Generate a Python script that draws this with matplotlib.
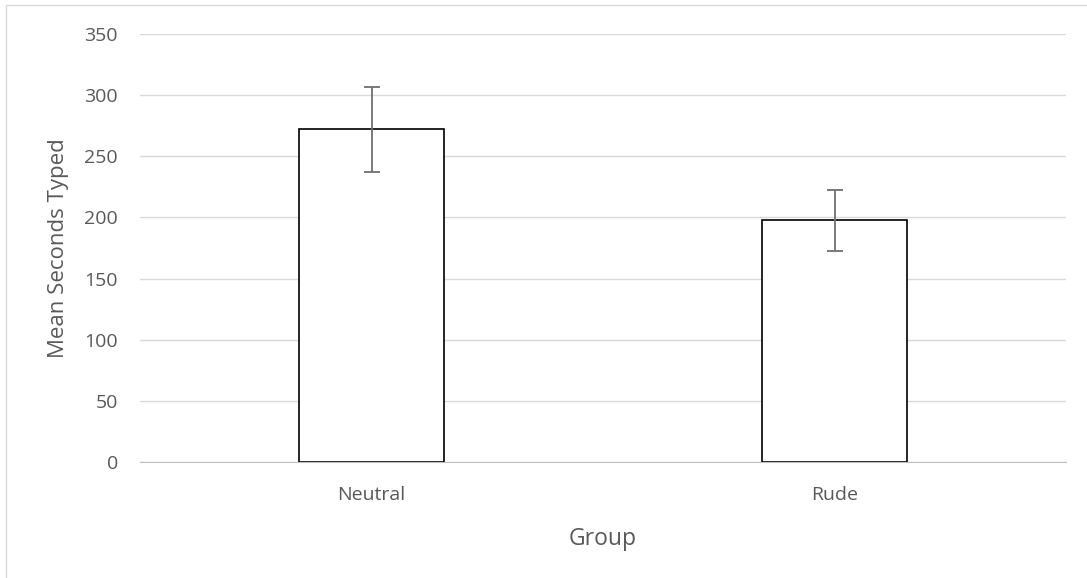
import matplotlib.pyplot as plt
from matplotlib.patches import Rectangle

groups = ["Neutral", "Rude"]
means = [272, 197.5]
errors = [34.5, 24.7]
yticks = [0, 50, 100, 150, 200, 250, 300, 350]

plt.rcParams['font.family'] = ['Open Sans', 'DejaVu Sans']
text_color = "#595959"

fig = plt.figure(figsize=(10.87, 5.78), dpi=100)
ax = fig.add_axes([140/1087, 1 - 462/578, 926/1087, 428/578])

x = range(len(groups))
ax.bar(x, means, width=0.315, color="white", edgecolor="black", linewidth=1.2, zorder=3)
ax.errorbar(x, means, yerr=errors, fmt="none", ecolor="#707070", elinewidth=1.3,
            capsize=6, capthick=1.3, zorder=4)

ax.set_xlim(-0.5, 1.5)
ax.set_ylim(0, 350)
ax.set_yticks(yticks)
ax.set_xticks(list(x))
ax.set_xticklabels(groups)
ax.yaxis.grid(True, color="#d9d9d9", linewidth=1, zorder=0)
ax.set_axisbelow(True)

for side in ["top", "right", "left"]:
    ax.spines[side].set_visible(False)
ax.spines["bottom"].set_color("#bfbfbf")
ax.spines["bottom"].set_zorder(5)

ax.tick_params(axis="y", length=0, pad=16, labelsize=14, labelcolor=text_color)
ax.tick_params(axis="x", length=0, pad=17, labelsize=14, labelcolor=text_color)
ax.set_ylabel("Mean Seconds Typed", fontsize=16, color=text_color, labelpad=11)
ax.set_xlabel("Group", fontsize=16.5, color=text_color, labelpad=17)

fig.patches.append(Rectangle((6/1087, -0.01), 1.02, 1 - 5/578 + 0.01,
                             transform=fig.transFigure, fill=False,
                             edgecolor="#d9d9d9", linewidth=1))

fig.savefig("out.png", dpi=100)
